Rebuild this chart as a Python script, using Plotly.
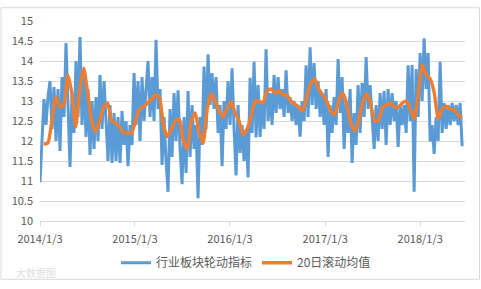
import pandas as pd
import plotly.graph_objects as go

# 行业板块轮动指标 (daily index, roughly every other trading day)
index_values = [
    10.97, 12.1, 13.05, 12.4, 13.1, 13.5, 12.3, 13.35, 12.0, 13.3,
    11.75, 13.6, 12.6, 14.45, 12.9, 11.35, 13.2, 12.2, 14.0, 12.6,
    14.6, 12.4, 13.6, 12.1, 13.3, 11.65, 13.0, 11.8, 13.1, 12.0,
    13.65, 12.3, 13.5, 12.4, 11.5, 12.9, 11.45, 12.7, 11.5, 12.6,
    11.45, 12.75, 11.9, 12.5, 11.37, 12.4, 11.9, 13.7, 12.4, 13.5,
    12.0, 13.6, 12.5, 13.3, 14.0, 12.6, 13.6, 12.5, 14.53, 12.8,
    13.3, 11.4, 12.6, 11.5, 10.73, 12.8, 11.6, 13.2, 12.0, 13.27,
    11.8, 10.92, 12.6, 11.2, 13.25, 11.6, 12.9, 11.8, 12.4, 10.57,
    12.6, 11.9, 13.86, 12.3, 14.17, 12.9, 13.7, 12.8, 13.6, 12.2,
    12.9, 11.37, 13.0, 12.3, 13.5, 12.4, 13.82, 12.3, 11.14, 12.9,
    11.7, 12.4, 11.5, 12.3, 11.09, 13.58, 12.2, 13.98, 12.09, 13.4,
    12.1, 13.0, 12.3, 14.29, 12.5, 13.2, 12.4, 13.65, 12.7, 13.6,
    12.8, 13.3, 12.6, 13.77, 12.7, 13.1, 12.5, 13.0, 12.4, 12.9,
    12.11, 13.0, 12.5, 13.89, 12.6, 14.34, 12.9, 13.95, 12.8, 13.5,
    12.6, 13.2, 12.4, 13.3, 11.6, 12.9, 12.2, 13.1, 12.4, 14.05,
    12.7, 13.6, 11.8, 13.0, 12.2, 13.3, 11.45, 12.7, 11.9, 13.4,
    12.2, 13.45, 12.6, 14.1, 12.8, 13.4, 12.5, 11.8, 12.9, 12.0,
    13.2, 12.3, 13.25, 11.9, 13.3, 12.4, 13.2, 12.5, 13.0, 11.85,
    12.9, 12.4, 12.9, 12.2, 13.89, 12.5, 13.9, 10.73, 13.8, 12.6,
    14.2, 13.0, 14.57, 13.3, 14.2, 11.99, 12.4, 11.68, 12.6, 12.0,
    13.98, 12.2, 12.95, 12.3, 12.9, 12.4, 12.95, 12.5, 12.9, 12.4,
    12.95, 11.87,
]
index_start, index_end = "2014-01-03", "2018-06-13"

# 20日滚动均值
ma_values = [
    11.92, 11.95, 12.5, 13.1, 12.85, 12.9, 13.65, 13.2, 12.35, 13.3,
    13.82, 13.2, 12.5, 12.23, 12.5, 12.85, 12.95, 12.5, 12.45, 12.35,
    12.2, 12.2, 12.2, 12.5, 12.8, 12.85, 12.95, 13.05, 13.15, 13.1,
    12.4, 12.11, 12.3, 12.5, 12.55, 12.0, 11.8, 12.5, 12.7, 12.2,
    11.95, 12.8, 13.18, 13.0, 12.75, 12.6, 12.8, 12.99, 12.7, 12.5,
    12.15, 12.3, 12.6, 13.0, 13.0, 12.95, 13.25, 13.3, 13.2, 13.25,
    13.15, 13.15, 13.0, 12.92, 12.85, 12.75, 13.1, 13.45, 13.55, 13.3,
    13.15, 13.0, 12.75, 12.65, 13.0, 13.2, 12.95, 12.45, 12.25, 12.5,
    12.95, 13.18, 12.95, 12.5, 12.5, 12.85, 12.9, 12.95, 12.85, 12.85,
    12.95, 13.0, 12.8, 12.55, 13.2, 13.9, 13.65, 13.55, 13.2, 12.55,
    12.8, 12.87, 12.8, 12.78, 12.65, 12.58,
]
ma_start, ma_end = "2014-01-18", "2018-06-13"

tick_dates = ["2014-01-03", "2015-01-03", "2016-01-03", "2017-01-03", "2018-01-03"]
tick_labels = ["2014/1/3", "2015/1/3", "2016/1/3", "2017/1/3", "2018/1/3"]
x_range = ["2014-01-03", "2018-06-24"]

index_dates = pd.date_range(index_start, index_end, periods=len(index_values))
ma_dates = pd.date_range(ma_start, ma_end, periods=len(ma_values))

FONT = "Noto Sans CJK SC, sans-serif"
W, H = 481, 289
ML, MR, MT, MB = 40, 16, 15, 63

fig = go.Figure()
fig.add_trace(go.Scatter(x=index_dates, y=index_values, mode="lines",
                         name="行业板块轮动指标",
                         line=dict(color="#5b9bd5", width=3)))
fig.add_trace(go.Scatter(x=ma_dates, y=ma_values, mode="lines",
                         name="20日滚动均值",
                         line=dict(color="#ed7d31", width=3.4, shape="spline", smoothing=0.5)))

pw = W - ML - MR
ph = H - MT - MB
fig.add_shape(type="rect", xref="paper", yref="paper",
              x0=(1 - ML) / pw, x1=(W - 1.5 - ML) / pw,
              y0=-(H - 1.5 - MT - ph) / ph, y1=(ph + MT - 1) / ph,
              line=dict(color="#d9d9d9", width=1), layer="below")

fig.add_annotation(text="大数据图", xref="paper", yref="paper",
                   x=(14 - ML) / pw, y=-(280 - MT - ph) / ph,
                   xanchor="left", yanchor="middle", showarrow=False,
                   font=dict(family=FONT, size=10, color="#e0e0e0"))

fig.update_layout(
    width=W, height=H,
    margin=dict(l=ML, r=MR, t=MT, b=MB),
    paper_bgcolor="white", plot_bgcolor="white",
    font=dict(family=FONT, size=11, color="#595959"),
    showlegend=True,
    legend=dict(orientation="h", x=(246 - ML) / pw, xanchor="center",
                y=-(270 - MT - ph) / ph, yanchor="middle",
                font=dict(family=FONT, size=12, color="#595959"),
                itemwidth=30, traceorder="normal",
                bgcolor="rgba(0,0,0,0)"),
    xaxis=dict(type="date", range=x_range, tickmode="array",
               tickvals=tick_dates, ticktext=tick_labels,
               showgrid=False, showline=True, linecolor="#d9d9d9", linewidth=1,
               ticks="outside", ticklen=4, tickcolor="#d9d9d9",
               ticklabelstandoff=4,
               tickfont=dict(family=FONT, size=11, color="#595959"),
               zeroline=False),
    yaxis=dict(range=[10, 15], dtick=0.5, tickformat="~g",
               showgrid=True, gridcolor="#d9d9d9", gridwidth=1,
               showline=False, zeroline=False, ticks="",
               ticklabelstandoff=6,
               tickfont=dict(family=FONT, size=11, color="#595959")),
)

fig.write_html("out.html")
